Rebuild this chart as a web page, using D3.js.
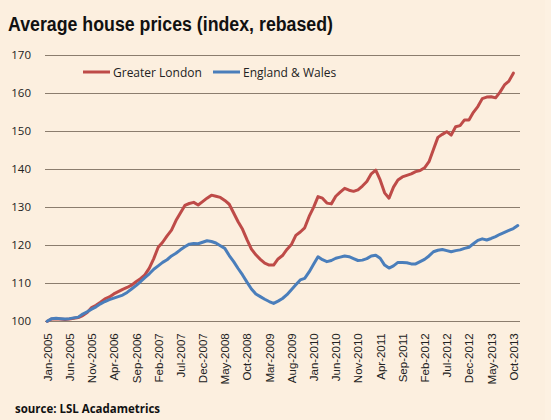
<!DOCTYPE html>
<html><head><meta charset="utf-8">
<script src="https://cdn.jsdelivr.net/npm/d3@7"></script>
<style>html,body{margin:0;padding:0;background:#fdf1e2;}svg{display:block;}</style>
</head><body>
<svg id="c" width="551" height="420"></svg>
<script>
const monthNames = ["Jan","Feb","Mar","Apr","May","Jun","Jul","Aug","Sep","Oct","Nov","Dec"];
const startYear = 2005, monthCount = 107; // Jan-2005 .. Nov-2013
const categories = [];
for (let i = 0; i < monthCount; i++) categories.push(monthNames[i % 12] + "-" + (startYear + Math.floor(i / 12)));

const seriesNames = ["Greater London", "England & Wales"];
const londonValues = [
 100.0,100.6,100.7,100.6,100.5,100.6,100.8,101.0,101.5,102.3,103.6,104.2,
 105.0,105.9,106.4,107.2,107.8,108.4,108.9,109.5,110.4,111.2,112.2,114.0,
 116.5,119.5,120.8,122.5,124.0,126.5,128.5,130.5,131.0,131.3,130.6,131.5,
 132.4,133.2,132.9,132.6,131.8,130.8,128.5,126.2,124.2,121.5,119.0,117.5,
 116.3,115.3,114.8,114.8,116.4,117.3,118.9,120.2,122.6,123.5,124.6,127.6,
 130.0,132.8,132.4,131.1,130.9,132.9,134.0,135.0,134.5,134.2,134.6,135.6,
 136.8,138.8,139.8,137.2,133.8,132.4,135.3,137.2,138.0,138.4,138.8,139.4,
 139.7,140.4,142.0,145.2,148.4,149.2,149.9,149.0,151.2,151.5,153.0,153.0,
 155.0,156.5,158.6,159.0,159.1,158.8,160.3,162.2,163.2,165.3
];
const englandWalesValues = [
 100.0,100.7,100.8,100.7,100.6,100.7,100.9,101.1,101.9,102.5,103.2,103.8,
 104.6,105.2,105.7,106.1,106.5,106.9,107.6,108.5,109.4,110.4,111.5,112.5,
 113.7,114.6,115.5,116.2,117.2,117.9,118.8,119.6,120.3,120.5,120.4,120.8,
 121.2,121.0,120.6,119.9,119.2,117.3,115.7,113.9,112.2,110.3,108.5,107.2,
 106.5,105.8,105.2,104.7,105.3,106.0,107.0,108.3,109.6,110.9,111.3,113.0,
 115.0,117.0,116.2,115.7,116.0,116.6,116.9,117.2,117.0,116.5,116.0,116.1,
 116.5,117.2,117.4,116.6,114.8,114.0,114.6,115.5,115.5,115.4,115.1,115.1,
 115.7,116.3,117.2,118.3,118.7,118.9,118.6,118.3,118.6,118.8,119.2,119.5,
 120.4,121.3,121.7,121.4,121.8,122.3,122.9,123.4,123.9,124.4,125.2
];
const yTicks = [100,110,120,130,140,150,160,170];
const xTickLabels = ["Jan-2005","Jun-2005","Nov-2005","Apr-2006","Sep-2006","Feb-2007","Jul-2007","Dec-2007","May-2008","Oct-2008","Mar-2009","Aug-2009","Jan-2010","Jun-2010","Nov-2010","Apr-2011","Sep-2011","Feb-2012","Jul-2012","Dec-2012","May-2013","Oct-2013"];
const colors = ["#BE4B48","#4A7EBB"];

const svg = d3.select("#c");
const W = 551, H = 420;
svg.append("rect").attr("width", W).attr("height", H).attr("fill", "#fdf1e2");
svg.append("rect").attr("width", 545).attr("height", H).attr("fill", "#fcefdf");

const L = 45, R = 520, T = 55.3, B = 321.3;
const x = d3.scalePoint().domain(categories).range([L, R]).padding(0.5);
const y = d3.scaleLinear().domain([100, 170]).range([B, T]);

// Title
svg.append("text").attr("x", 8).attr("y", 31)
  .attr("font-family", "Liberation Sans, Arial, sans-serif").attr("font-weight", "bold")
  .attr("font-size", 19.5).attr("fill", "#111")
  .attr("textLength", 325).attr("lengthAdjust", "spacingAndGlyphs")
  .text("Average house prices (index, rebased)");

// Gridlines
svg.append("g").selectAll("line").data(yTicks).join("line")
  .attr("x1", L).attr("x2", R).attr("y1", d => Math.round(y(d)) + 0.5).attr("y2", d => Math.round(y(d)) + 0.5)
  .attr("stroke", "#8b7d6e").attr("stroke-width", 1);

// Y axis labels
const yAxis = d3.axisLeft(y).tickValues(yTicks).tickSize(0).tickPadding(0);
const gy = svg.append("g").attr("transform", `translate(31,0)`).call(yAxis);
gy.select(".domain").remove();
gy.selectAll("text").attr("font-family", "Open Sans, DejaVu Sans, sans-serif").attr("font-size", 11.5).attr("fill", "#222");

// X axis labels
const xAxis = d3.axisBottom(x).tickValues(xTickLabels).tickSize(0).tickPadding(0);
const gx = svg.append("g").attr("transform", `translate(0,${B})`).call(xAxis);
gx.select(".domain").remove();
gx.selectAll("text")
  .attr("font-family", "Liberation Sans, Arial, sans-serif").attr("font-size", 11.5).attr("fill", "#222")
  .attr("text-anchor", "end").attr("dy", null).attr("y", 0)
  .attr("transform", "translate(4,12) rotate(-90)");

// Lines
const series = [londonValues, englandWalesValues];
const line = d3.line().x((d, i) => x(categories[i])).y(d => y(d));
svg.append("g").selectAll("path").data(series).join("path")
  .attr("d", d => line(d)).attr("fill", "none")
  .attr("stroke", (d, i) => colors[i]).attr("stroke-width", 3)
  .attr("stroke-linejoin", "round").attr("stroke-linecap", "round");

// Legend
const legendPos = [83, 213];
const lg = svg.append("g").selectAll("g").data(seriesNames).join("g")
  .attr("transform", (d, i) => `translate(${legendPos[i]},72)`);
lg.append("line").attr("x1", 0).attr("x2", 27).attr("y1", 0).attr("y2", 0)
  .attr("stroke", (d, i) => colors[i]).attr("stroke-width", 3);
lg.append("text").attr("x", 30).attr("y", 4.5)
  .attr("font-family", "Open Sans, DejaVu Sans, sans-serif").attr("font-size", 12).attr("fill", "#222")
  .text(d => d);

// Source
svg.append("text").attr("x", 15).attr("y", 413)
  .attr("font-family", "Open Sans, DejaVu Sans, sans-serif").attr("font-weight", "bold")
  .attr("font-size", 12.5).attr("fill", "#111")
  .attr("textLength", 145).attr("lengthAdjust", "spacingAndGlyphs")
  .text("source: LSL Acadametrics");
</script>
</body></html>
